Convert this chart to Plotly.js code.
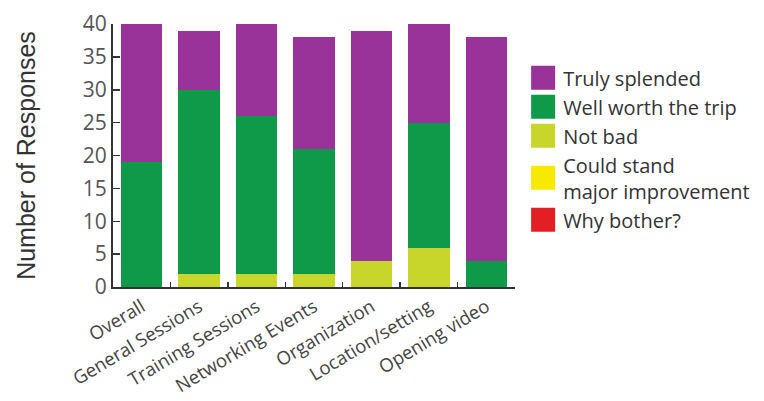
<!DOCTYPE html>
<html>
<head>
<meta charset="utf-8">
<script src="https://cdn.plot.ly/plotly-3.0.1.min.js"></script>
<style>html,body{margin:0;padding:0;background:#fff;}</style>
</head>
<body>
<div id="chart" style="width:764px;height:401px;"></div>
<script>
var categories = ["Overall", "General Sessions", "Training Sessions", "Networking Events", "Organization", "Location/setting", "Opening video"];
var whyBother = [0, 0, 0, 0, 0, 0, 0];
var couldStand = [0, 0, 0, 0, 0, 0, 0];
var notBad = [0, 2, 2, 2, 4, 6, 0];
var wellWorth = [19, 28, 24, 19, 0, 19, 4];
var trulySplended = [21, 9, 14, 17, 35, 15, 34];
var seriesNames = ["Why bother?", "Could stand<br>major improvement", "Not bad", "Well worth the trip", "Truly splended"];
var seriesColors = ["#e31e24", "#f7ea00", "#c8d62b", "#0e9a48", "#993399"];
var seriesValues = [whyBother, couldStand, notBad, wellWorth, trulySplended];
var yTicks = [0, 5, 10, 15, 20, 25, 30, 35, 40];

var traces = seriesValues.map(function (vals, i) {
  return {
    type: "bar",
    name: seriesNames[i],
    x: categories,
    y: vals,
    marker: { color: seriesColors[i], line: { width: 0 } },
    hoverinfo: "x+y+name"
  };
});

var layout = {
  width: 764,
  height: 401,
  barmode: "stack",
  bargap: 0.28,
  paper_bgcolor: "#ffffff",
  plot_bgcolor: "#ffffff",
  margin: { l: 113, r: 0, t: 24, b: 114 },
  font: { family: "Open Sans, DejaVu Sans, sans-serif", color: "#3a3a3a" },
  xaxis: {
    domain: [0, 0.6175],
    type: "category",
    tickangle: -31,
    tickson: "boundaries",
    ticks: "inside",
    ticklen: 5,
    tickwidth: 1.5,
    tickcolor: "#333",
    showline: true,
    linecolor: "#333",
    linewidth: 2,
    showgrid: false,
    zeroline: false,
    tickfont: { size: 18.5, color: "#444", family: "Open Sans, sans-serif" },
    automargin: false
  },
  yaxis: {
    range: [0, 40],
    tickvals: yTicks,
    ticks: "inside",
    ticklen: 7,
    tickwidth: 1.5,
    tickcolor: "#333",
    showline: true,
    linecolor: "#333",
    linewidth: 2,
    showgrid: false,
    zeroline: false,
    tickfont: { size: 21, color: "#555", family: "Open Sans, sans-serif" },
    title: { text: "Number of Responses", standoff: 40, font: { size: 25, color: "#333", family: "Liberation Sans, Arial, sans-serif" } },
    automargin: false
  },
  showlegend: true,
  legend: {
    x: 0.630,
    y: 0.87,
    xanchor: "left",
    yanchor: "top",
    traceorder: "reversed",
    font: { size: 20, color: "#333", family: "Open Sans, sans-serif" },
    itemwidth: 30,
    bgcolor: "rgba(0,0,0,0)"
  }
};

function enlargeSwatches() {
  var gd = document.getElementById("chart");
  var paths = gd.querySelectorAll(".legend .legendpoints path");
  for (var i = 0; i < paths.length; i++) {
    paths[i].setAttribute("d", "M12,12H-12V-12H12Z");
  }
}

Plotly.newPlot("chart", traces, layout, { displayModeBar: false, staticPlot: true }).then(function (gd) {
  enlargeSwatches();
  gd.on("plotly_afterplot", enlargeSwatches);
  setTimeout(enlargeSwatches, 50);
  setTimeout(enlargeSwatches, 300);
});
</script>
</body>
</html>
